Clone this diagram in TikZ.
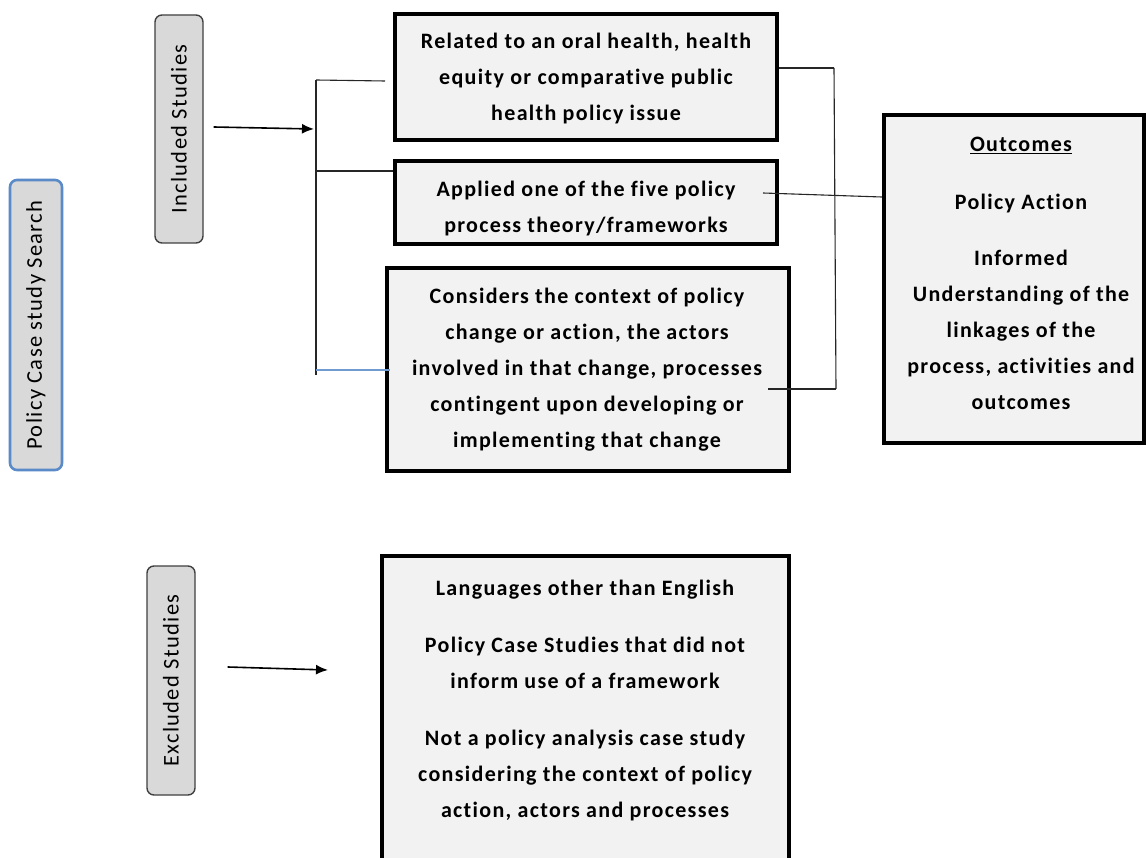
\documentclass[tikz,border=0pt]{standalone}
\usepackage{fontspec}
\setmainfont{Carlito}[LetterSpace=6, Ligatures={NoCommon}]
\usetikzlibrary{arrows.meta}
\definecolor{pillgray}{HTML}{D9D9D9}
\definecolor{boxgray}{HTML}{F2F2F2}
\definecolor{pillblue}{HTML}{5A8AC8}
\definecolor{linkblue}{HTML}{6F9BD1}
\begin{document}
\begin{tikzpicture}[x=1pt,y=-1pt,
  pill/.style={draw=black!75, line width=1.4pt, fill=pillgray, rounded corners=7pt, inner sep=0pt},
  searchpill/.style={pill, draw=pillblue, line width=2.6pt},
  sidetext/.style={rotate=90, font=\fontsize{22.5}{26}\selectfont},
  critbox/.style={draw=black, line width=4.5pt, fill=boxgray, inner sep=0pt},
  crittext/.style={align=center, inner sep=0pt, font=\bfseries\fontsize{22}{36}\selectfont},
  bracket/.style={line width=1.1pt, draw=black!85},
  flow/.style={line width=1.6pt, -{Latex[length=12pt,width=10pt]}}
]
\clip (0,0) rectangle (1146,858);
\fill[white] (0,0) rectangle (1146,858);

% side labels
\node[searchpill, minimum width=52, minimum height=290] (search) at (36,325) {};
\node[sidetext] (searchtxt) at (search.center) {Policy Case study Search};
\node[pill, minimum width=48, minimum height=228] (inc) at (179,129) {};
\node[sidetext] (inctxt) at (inc.center) {Included Studies};
\node[pill, minimum width=48, minimum height=229] (exc) at (171,680.5) {};
\node[sidetext] (exctxt) at (exc.center) {Excluded Studies};

% inclusion criteria
\node[critbox, minimum width=382, minimum height=126] (b1) at (586,77) {};
\node[crittext] (b1t) at (586,79) {Related to an oral health, health\\equity or comparative public\\health policy issue};
\node[critbox, minimum width=382, minimum height=83] (b2) at (586,202.5) {};
\node[crittext] (b2t) at (586,209) {Applied one of the five policy\\process theory/frameworks};
\node[critbox, minimum width=402, minimum height=203] (b3) at (588,369.5) {};
\node[crittext] (b3t) at (587,370) {Considers the context of policy\\change or action, the actors\\involved in that change, processes\\contingent upon developing or\\implementing that change};

% outcomes
\node[critbox, minimum width=260, minimum height=328] (out) at (1014,279) {};
\node[crittext] (outt) at (1021,273.5) {\underline{Outcomes}\\[22pt]Policy Action\\[20pt]Informed\\Understanding of the\\linkages of the\\process, activities and\\outcomes};

% exclusion criteria
\node[critbox, minimum width=407, minimum height=320] (b4) at (585.5,716) {};
\node[crittext] (b4t) at (585,701) {Languages other than English\\[21pt]Policy Case Studies that did not\\inform use of a framework\\[21pt]Not a policy analysis case study\\considering the context of policy\\action, actors and processes};

% left bracket
\coordinate (lt) at (316,80);
\coordinate (lm) at (316,171);
\coordinate (lb) at (316,375);
\coordinate (lbend) at (316,370);
\coordinate (b1in) at (385,81);
\coordinate (b3in) at (390,370);
\draw[bracket] (lt) -- (lb);
\draw[bracket] (lt) -- (b1in);
\draw[bracket] (lm) -- (b2.west |- lm);
\draw[line width=1.1pt, draw=linkblue] (lbend) -- (b3in);

% right bracket
\coordinate (rt) at (834,68);
\coordinate (rb) at (836,389);
\coordinate (b2in) at (763,193);
\coordinate (b3out) at (768,389);
\draw[bracket] (rt) -- (rb);
\draw[bracket] (b1.east |- rt) -- (rt);
\draw[bracket] (b3out) -- (rb);
\draw[bracket] (b2in) -- (out.west |- 0,197);

% arrows
\coordinate (incarrow) at (314,129);
\coordinate (excarrow) at (328,670);
\draw[flow] (inc.east |- 0,127) ++(10,0) -- (incarrow);
\draw[flow] (exc.east |- 0,667) ++(32,0) -- (excarrow);
\end{tikzpicture}
\end{document}
